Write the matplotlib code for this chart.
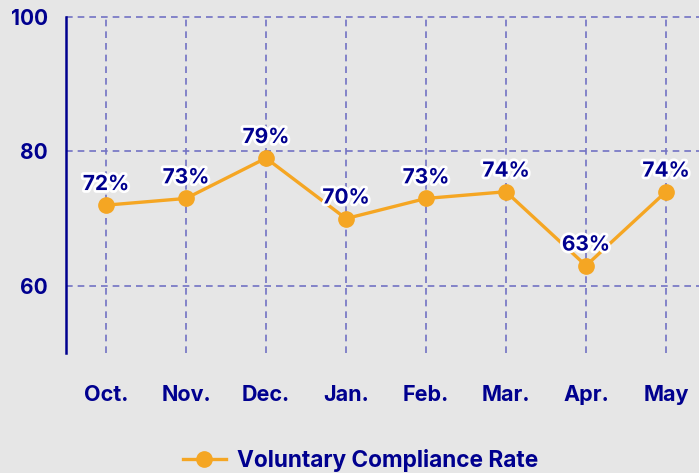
import matplotlib.pyplot as plt
import matplotlib.patheffects as pe

months = ['Oct.', 'Nov.', 'Dec.', 'Jan.', 'Feb.', 'Mar.', 'Apr.', 'May']
rate = [72, 73, 79, 70, 73, 74, 63, 74]
y_ticks = [60, 80, 100]

navy = '#00008f'
orange = '#f5a623'
bg = '#e6e6e6'
grid_col = '#7272c4'

plt.rcParams['font.family'] = ['Inter', 'DejaVu Sans']

fig = plt.figure(figsize=(6.99, 4.73), dpi=100, facecolor=bg)
ax = fig.add_axes([66 / 699, 1 - 353 / 473, 640 / 699, 336 / 473])
ax.set_facecolor(bg)

x = list(range(len(months)))
ax.plot(x, rate, color=orange, lw=2.4, marker='o', ms=11,
        label='Voluntary Compliance Rate', zorder=3)

for xi, v in zip(x, rate):
    ax.annotate('%d%%' % v, (xi, v), xytext=(0, 8), textcoords='offset points',
                ha='center', va='bottom', fontsize=15, fontweight='bold', color=navy,
                path_effects=[pe.withStroke(linewidth=4, foreground='white')], zorder=4)

ax.set_xlim(-0.5, 7.5)
ax.set_ylim(50, 100)
ax.set_xticks(x)
ax.set_xticklabels(months)
ax.set_yticks(y_ticks)
ax.tick_params(axis='x', length=0, pad=23, labelsize=15.5, labelcolor=navy)
ax.tick_params(axis='y', length=0, pad=13, labelsize=15, labelcolor=navy)
for lab in ax.get_xticklabels() + ax.get_yticklabels():
    lab.set_fontweight('bold')

ax.grid(True, color=grid_col, ls=(0, (4, 3)), lw=1.2, clip_on=False)
for s in ['top', 'right', 'bottom']:
    ax.spines[s].set_visible(False)
ax.spines['left'].set_color(navy)
ax.spines['left'].set_linewidth(1.8)

leg = fig.legend(loc='center', bbox_to_anchor=(0.516, 1 - 460 / 473), frameon=False,
                 prop={'size': 16.3, 'weight': 'bold'}, handlelength=1.9, handletextpad=0.5)
for t in leg.get_texts():
    t.set_color(navy)

fig.savefig('out.png', facecolor=bg)
